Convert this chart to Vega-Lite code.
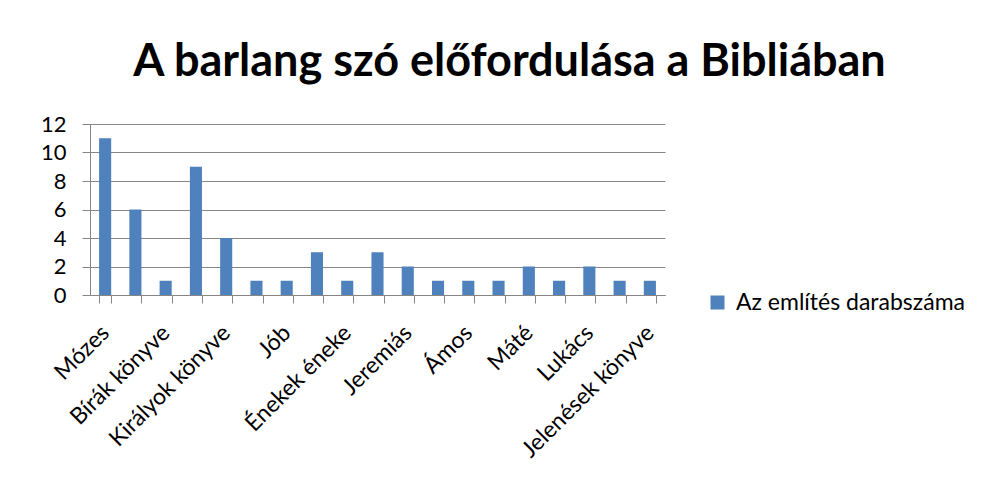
{
  "$schema": "https://vega.github.io/schema/vega-lite/v6.json",
  "autosize": "none",
  "width": 575,
  "height": 171,
  "padding": {"left": 90, "top": 124, "right": 330, "bottom": 202},
  "background": "white",
  "title": {
    "text": "A barlang szó előfordulása a Bibliában",
    "font": "Lato",
    "fontSize": 45,
    "fontWeight": "bold",
    "color": "black",
    "anchor": "middle",
    "frame": "group",
    "dx": 132,
    "baseline": "alphabetic",
    "offset": -8
  },
  "data": {
    "values": [
      {"konyv": "Mózes", "db": 11},
      {"konyv": "Józsué", "db": 6},
      {"konyv": "Bírák könyve", "db": 1},
      {"konyv": "Sámuel", "db": 9},
      {"konyv": "Királyok könyve", "db": 4},
      {"konyv": "Krónikák", "db": 1},
      {"konyv": "Jób", "db": 1},
      {"konyv": "Zsoltárok", "db": 3},
      {"konyv": "Énekek éneke", "db": 1},
      {"konyv": "Ézsaiás", "db": 3},
      {"konyv": "Jeremiás", "db": 2},
      {"konyv": "Ezékiel", "db": 1},
      {"konyv": "Ámos", "db": 1},
      {"konyv": "Náhum", "db": 1},
      {"konyv": "Máté", "db": 2},
      {"konyv": "Márk", "db": 1},
      {"konyv": "Lukács", "db": 2},
      {"konyv": "János", "db": 1},
      {"konyv": "Jelenések könyve", "db": 1}
    ]
  },
  "mark": {"type": "bar", "color": "#4F81BD"},
  "encoding": {
    "x": {
      "field": "konyv",
      "type": "nominal",
      "sort": null,
      "title": null,
      "scale": {"paddingInner": 0.6, "paddingOuter": 0.3},
      "axis": {
        "labelAngle": -45,
        "labelAlign": "right",
        "labelBaseline": "middle",
        "labelFont": "Lato",
        "labelFontSize": 23,
        "labelColor": "black",
        "labelPadding": 26,
        "labelLimit": 0,
        "labelExpr": "indexof(['Mózes','Bírák könyve','Királyok könyve','Jób','Énekek éneke','Jeremiás','Ámos','Máté','Lukács','Jelenések könyve'], datum.value) >= 0 ? datum.label : ''",
        "labelOverlap": false,
        "tickBand": "extent",
        "tickSize": 8,
        "tickColor": "#868686",
        "domainColor": "#868686",
        "grid": false
      }
    },
    "y": {
      "field": "db",
      "type": "quantitative",
      "title": null,
      "scale": {"domain": [0, 12], "nice": false},
      "axis": {
        "values": [0, 2, 4, 6, 8, 10, 12],
        "labelFont": "Lato",
        "labelFontSize": 22,
        "labelColor": "black",
        "labelPadding": 16,
        "tickSize": 8,
        "tickColor": "#868686",
        "domainColor": "#868686",
        "gridColor": "#868686",
        "gridOpacity": 1
      }
    },
    "fill": {
      "datum": "Az említés darabszáma",
      "type": "nominal",
      "scale": {"range": ["#4F81BD"]},
      "legend": {
        "title": null,
        "orient": "none",
        "legendX": 616,
        "legendY": 167,
        "symbolType": "square",
        "symbolSize": 196,
        "symbolStrokeWidth": 0,
        "labelFont": "Lato",
        "labelFontSize": 23,
        "labelColor": "black",
        "labelLimit": 0,
        "labelOffset": 7
      }
    }
  },
  "config": {
    "view": {"stroke": null}
  }
}
